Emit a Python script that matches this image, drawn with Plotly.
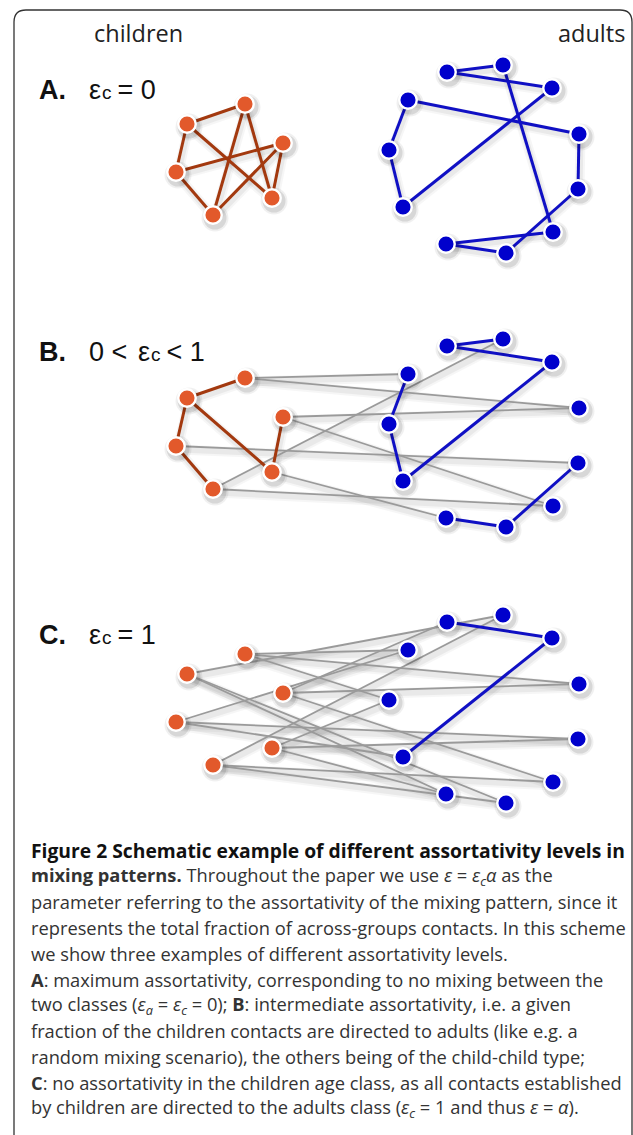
import plotly.graph_objects as go

# ---------------- data ----------------
# node layout (identical in every panel); indices: children c0..c5, adults a0..a10
child_x = [245, 187, 283, 176, 272, 213]
child_y = [104, 124, 143, 172, 198, 215]
adult_x = [447, 503, 552, 408, 579, 389, 578, 403, 553, 446, 506]
adult_y = [72, 65, 88, 100, 134, 150, 189, 207, 232, 244, 253]

group_labels = ["children", "adults"]
panel_letters = ["A.", "B.", "C."]
# parameter text of each panel: (before epsilon, epsilon, subscript, after)
panel_params = [
    ("", "ε", "c", " = 0"),
    ("0 <", "ε", "c", " < 1"),
    ("", "ε", "c", " = 1"),
]
panel_shift = [0, 274, 550]

# contacts per panel
child_child = [
    [(0, 1), (1, 3), (1, 4), (0, 5), (0, 4), (3, 2), (3, 5), (2, 5), (2, 4)],
    [(0, 1), (1, 3), (1, 4), (2, 4), (3, 5)],
    [],
]
adult_adult = [
    [(0, 1), (0, 2), (1, 8), (2, 7), (3, 4), (3, 5), (5, 7), (4, 6), (6, 10), (9, 8), (9, 10)],
    [(0, 1), (0, 2), (2, 7), (3, 5), (5, 7), (6, 10), (9, 10)],
    [(0, 2), (2, 7)],
]
child_adult = [
    [],
    [(0, 3), (0, 4), (2, 4), (2, 8), (3, 6), (4, 9), (5, 1), (5, 8)],
    [(0, 3), (0, 4), (0, 5), (1, 1), (1, 9), (1, 10), (2, 0), (2, 4), (2, 8),
     (3, 3), (3, 6), (3, 7), (4, 5), (4, 6), (4, 9), (5, 1), (5, 8), (5, 10)],
]

caption_lines = [
    "<b>Figure 2 Schematic example of different assortativity levels in</b>",
    "<b>mixing patterns.</b> Throughout the paper we use <i>ε</i> = <i>ε<sub>c</sub>α</i> as the",
    "parameter referring to the assortativity of the mixing pattern, since it",
    "represents the total fraction of across-groups contacts. In this scheme",
    "we show three examples of different assortativity levels.",
    "<b>A</b>: maximum assortativity, corresponding to no mixing between the",
    "two classes (<i>ε<sub>a</sub></i> = <i>ε<sub>c</sub></i> = 0); <b>B</b>: intermediate assortativity, i.e. a given",
    "fraction of the children contacts are directed to adults (like e.g. a",
    "random mixing scenario), the others being of the child-child type;",
    "<b>C</b>: no assortativity in the children age class, as all contacts established",
    "by children are directed to the adults class (<i>ε<sub>c</sub></i> = 1 and thus <i>ε</i> = <i>α</i>).",
]

# ---------------- styles ----------------
ORANGE = "#E2592B"
BROWN = "#A3390F"
BLUE = "#0000CC"
BLUE_EDGE = "#1010C4"
GRAY_EDGE = "#9A9A9A"

W, H = 633, 1135
fig = go.Figure()


def seg_xy(pairs, src_x, src_y, dst_x, dst_y, dy, ox=0.0, oy=0.0):
    xs, ys = [], []
    for i, j in pairs:
        xs += [src_x[i] + ox, dst_x[j] + ox, None]
        ys += [src_y[i] + dy + oy, dst_y[j] + dy + oy, None]
    return xs, ys


for p, dy in enumerate(panel_shift):
    groups = [
        (child_adult[p], child_x, child_y, adult_x, adult_y, GRAY_EDGE, 1.8),
        (child_child[p], child_x, child_y, child_x, child_y, BROWN, 3.0),
        (adult_adult[p], adult_x, adult_y, adult_x, adult_y, BLUE_EDGE, 3.0),
    ]
    # soft shadows under edges
    for pairs, sx, sy, tx, ty, col, w in groups:
        if not pairs:
            continue
        for wd, op in [(10, 0.035), (6, 0.05)]:
            xs, ys = seg_xy(pairs, sx, sy, tx, ty, dy, 1.5, 3.5)
            fig.add_trace(go.Scatter(x=xs, y=ys, mode="lines", hoverinfo="skip",
                                     line=dict(color="rgba(0,0,0,%.3f)" % op, width=wd)))
    for pairs, sx, sy, tx, ty, col, w in groups:
        if not pairs:
            continue
        xs, ys = seg_xy(pairs, sx, sy, tx, ty, dy)
        fig.add_trace(go.Scatter(x=xs, y=ys, mode="lines", hoverinfo="skip",
                                 line=dict(color=col, width=w)))
    # node shadows
    for nx, ny in [(child_x, child_y), (adult_x, adult_y)]:
        for sz, op in [(27, 0.06), (23, 0.10)]:
            fig.add_trace(go.Scatter(
                x=[v + 2 for v in nx], y=[v + dy + 3 for v in ny], mode="markers",
                hoverinfo="skip",
                marker=dict(size=sz, color="rgba(0,0,0,%.2f)" % op, line=dict(width=0))))
    # nodes
    fig.add_trace(go.Scatter(
        x=child_x, y=[v + dy for v in child_y], mode="markers", name="children",
        marker=dict(size=17.5, color=ORANGE, line=dict(color="white", width=2.4))))
    fig.add_trace(go.Scatter(
        x=adult_x, y=[v + dy for v in adult_y], mode="markers", name="adults",
        marker=dict(size=17.5, color=BLUE, line=dict(color="white", width=2.4))))

annotations = []
HEAD = dict(family="Open Sans", size=23.5, color="#222")
annotations.append(dict(x=138, y=33, text=group_labels[0], showarrow=False,
                        xanchor="center", yanchor="middle", font=HEAD))
annotations.append(dict(x=591, y=33, text=group_labels[1], showarrow=False,
                        xanchor="center", yanchor="middle", font=HEAD))

# panel labels (letter, then parameter pieces laid out left to right)
LBL = dict(family="Liberation Sans", size=27, color="#111")
SUBF = dict(family="Liberation Sans", size=19, color="#111")
label_y = [90, 352, 635]
pre_w = [0, 49, 0]      # room for the text before epsilon
for p in range(3):
    y0 = label_y[p]
    pre, eps, sub, post = panel_params[p]
    annotations.append(dict(x=37, y=y0, text="<b>" + panel_letters[p] + "</b>",
                            showarrow=False, xanchor="left", yanchor="middle", font=LBL))
    x0 = 87
    if pre:
        annotations.append(dict(x=x0, y=y0, text=pre, showarrow=False,
                                xanchor="left", yanchor="middle", font=LBL))
    xe = x0 + pre_w[p]
    annotations.append(dict(x=xe, y=y0, text=eps, showarrow=False,
                            xanchor="left", yanchor="middle", font=LBL))
    annotations.append(dict(x=xe + 12.5, y=y0 + 2.8, text=sub, showarrow=False,
                            xanchor="left", yanchor="middle", font=SUBF))
    annotations.append(dict(x=xe + 20.5, y=y0, text=post, showarrow=False,
                            xanchor="left", yanchor="middle", font=LBL))

# caption
for i, line in enumerate(caption_lines):
    annotations.append(dict(x=29, y=850 + 25.8 * i, text=line, showarrow=False,
                            xanchor="left", yanchor="middle",
                            font=dict(family="Open Sans", size=19.3 if i == 0 else 18.3,
                                      color="#111" if i == 0 else "#333")))

# frame with rounded corners
frame = dict(type="path", xref="x", yref="y",
             path="M 14 1140 L 14 22 Q 14 10 26 10 L 620 10 Q 632 10 632 22 L 632 1140",
             line=dict(color="#333", width=1.3))

fig.update_layout(
    width=W, height=H,
    margin=dict(l=0, r=0, t=0, b=0),
    paper_bgcolor="white", plot_bgcolor="white",
    showlegend=False,
    xaxis=dict(range=[0, W], visible=False, fixedrange=True),
    yaxis=dict(range=[H, 0], visible=False, fixedrange=True),
    annotations=annotations,
    shapes=[frame],
)

fig.write_html("out.html", config={"displayModeBar": False, "staticPlot": True},
               post_script="document.body.style.margin='0';document.body.style.overflow='hidden';")
